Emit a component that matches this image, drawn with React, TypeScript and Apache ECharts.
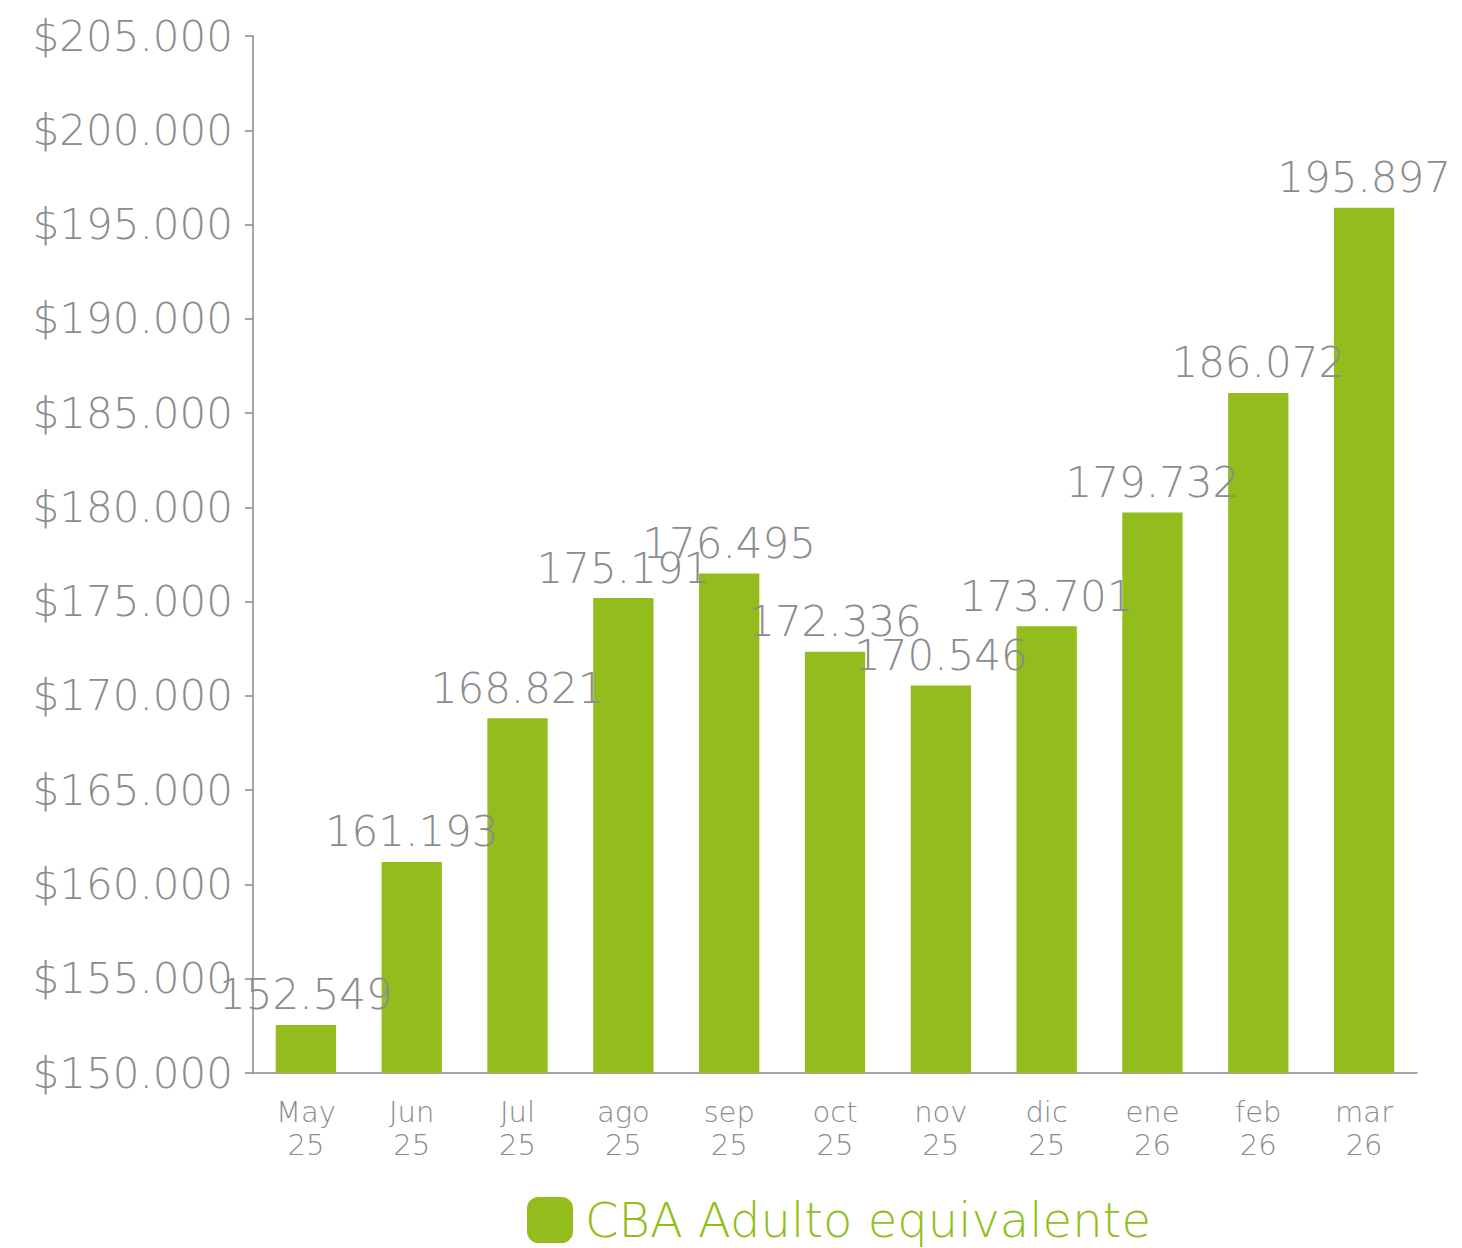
import React, { useEffect, useRef } from "react";
import * as echarts from "echarts";

const categories = ["May\n25", "Jun\n25", "Jul\n25", "ago\n25", "sep\n25", "oct\n25", "nov\n25", "dic\n25", "ene\n26", "feb\n26", "mar\n26"];
const values = [152549, 161193, 168821, 175191, 176495, 172336, 170546, 173701, 179732, 186072, 195897];
const seriesName = "CBA Adulto equivalente";
const yMin = 150000;
const yMax = 205000;
const yInterval = 5000;

const fmt = (v: number) => Math.round(v).toString().replace(/\B(?=(\d{3})+(?!\d))/g, ".");

const FONT = "DejaVu Sans";
const GRAY = "#8a8c90";
const GREEN = "#93bd1c";

export default function App() {
  const ref = useRef<HTMLDivElement>(null);
  useEffect(() => {
    if (!ref.current) return;
    const chart = echarts.init(ref.current, null, { renderer: "svg" });
    chart.setOption({
      animation: false,
      textStyle: { fontFamily: FONT },
      grid: { left: 245, right: 37, top: 28, bottom: 175, containLabel: false },
      legend: {
        top: 1188,
        left: 519,
        padding: 0,
        itemWidth: 46,
        itemHeight: 46,
        icon: "roundRect",
        textStyle: { color: GREEN, fontSize: 48, fontFamily: FONT, fontWeight: 200, padding: [0, 0, 0, 7] },
        data: [seriesName],
      },
      xAxis: {
        type: "category",
        data: categories,
        axisLine: { lineStyle: { color: "#888a8e", width: 1.5 } },
        axisTick: { alignWithLabel: true, length: 8, lineStyle: { color: "#888a8e", width: 1.5 } },
        axisLabel: { color: GRAY, fontSize: 29, lineHeight: 33, margin: 22, fontFamily: FONT, fontWeight: 200 },
      },
      yAxis: {
        type: "value",
        min: yMin,
        max: yMax,
        interval: yInterval,
        splitLine: { show: false },
        axisLine: { show: true, lineStyle: { color: "#888a8e", width: 1.5 } },
        axisTick: { show: true, length: 8, lineStyle: { color: "#888a8e", width: 1.5 } },
        axisLabel: { color: GRAY, fontSize: 42, margin: 20, fontFamily: FONT, fontWeight: 200, formatter: (v: number) => "$" + fmt(v) },
      },
      series: [
        {
          name: seriesName,
          type: "bar",
          data: values,
          barWidth: "57%",
          itemStyle: { color: GREEN },
          label: {
            show: true,
            position: "top",
            distance: 9,
            color: GRAY,
            fontSize: 42,
            fontFamily: FONT,
            fontWeight: 200,
            formatter: (p: any) => fmt(p.value),
          },
        },
      ],
    });
    return () => chart.dispose();
  }, []);
  return <div ref={ref} style={{ width: 1446, height: 1240 }} />;
}
